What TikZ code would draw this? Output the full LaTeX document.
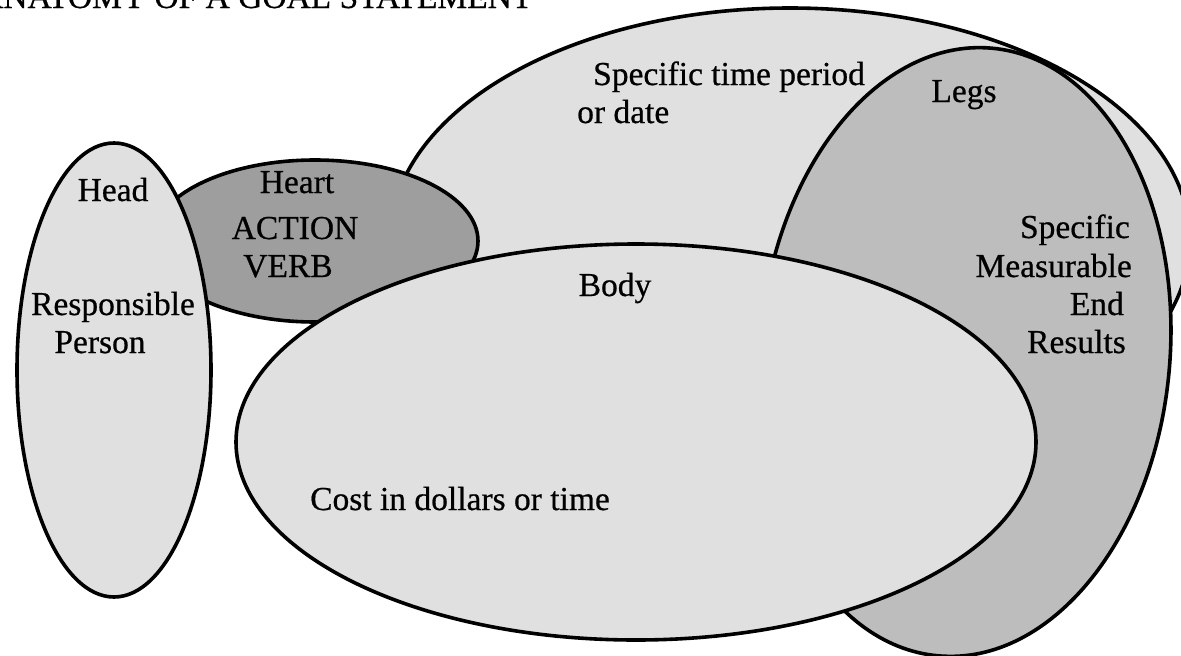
\documentclass[tikz,border=0pt]{standalone}
\usepackage{fontspec}
\setmainfont{Liberation Serif}[RawFeature={embolden=0.6}]
\usetikzlibrary{shapes.geometric}
\usetikzlibrary{positioning}
\definecolor{pale}{gray}{0.88}
\definecolor{medium}{gray}{0.74}
\definecolor{deep}{gray}{0.62}

\begin{document}
\begin{tikzpicture}[x=1pt,y=-1pt,
  blob/.style={ellipse,draw,line width=3.6pt,inner sep=0pt},
  lbl/.style={font=\fontsize{33.5}{38}\selectfont,inner sep=0pt,anchor=base}]
\clip (0,0) rectangle (1181,656);
\node [lbl,anchor=base west] (title) at (-21,8) {ANATOMY OF A GOAL STATEMENT};
% parts of the statement, back to front
\node [blob,fill=pale,minimum width=800pt,minimum height=464pt] (time) at (790,240) {};
\node [blob,fill=medium,minimum width=410pt,minimum height=610pt,rotate=-5] (legs) at (965,352) {};
\node [blob,fill=deep,minimum width=326pt,minimum height=162pt] (heart) at (315,241) {};
\node [blob,fill=pale,minimum width=194pt,minimum height=454pt] (head) at (114,370) {};
\node [blob,fill=pale,minimum width=800pt,minimum height=396pt] (body) at (636,442) {};
% texts
\node [lbl] (headname) at (113,201) {Head};
\node [lbl] (resp) at (113,315) {Responsible};
\node [lbl] (person) at (100,353) {Person};
\node [lbl] (heartname) at (297,193) {Heart};
\node [lbl] (action) at (295,239) {ACTION};
\node [lbl] (verb) at (288,277) {VERB};
\node [lbl,anchor=base west] (when) at (593,85) {Specific time period};
\node [lbl,anchor=base west] (when2) at (577,123) {or date};
\node [lbl] (legsname) at (964,102) {Legs};
\node [lbl,anchor=base east] (res1) at (1130,238) {Specific};
\node [lbl,anchor=base east] (res2) at (1132,277) {Measurable};
\node [lbl,anchor=base east] (res3) at (1124,315) {End};
\node [lbl,anchor=base east] (res4) at (1126,353) {Results};
\node [lbl] (bodyname) at (615,296) {Body};
\node [lbl,anchor=base west] (cost) at (310,510) {Cost in dollars or time};
\end{tikzpicture}
\end{document}
